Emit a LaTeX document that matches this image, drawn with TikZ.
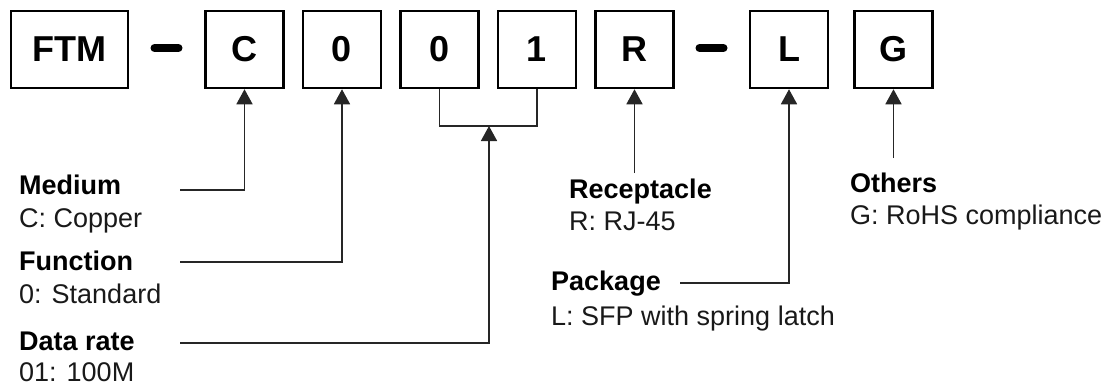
\documentclass[tikz,border=0pt]{standalone}
\usepackage{fontspec}
\setmainfont{Liberation Sans}
\usetikzlibrary{arrows.meta}
\begin{document}
\begin{tikzpicture}[x=1pt,y=-1pt,
  codebox/.style={draw=black,line width=2.5pt,minimum width=78pt,minimum height=77pt,inner sep=0pt,font=\fontsize{36}{40}\selectfont\bfseries},
  sepdash/.style={line width=8pt,line cap=round},
  conn/.style={line width=1.6pt,draw=black!85},
  arr/.style={conn,-{Triangle[length=15pt,width=16pt]}},
  ttl/.style={anchor=base west,inner sep=0pt,font=\fontsize{27}{30}\selectfont\bfseries},
  dsc/.style={anchor=base west,inner sep=0pt,font=\fontsize{27}{30}\selectfont,text=black!90}
]
\useasboundingbox (0,0) rectangle (1112,386);
% code boxes
\node[codebox,minimum width=117pt] (ftm) at (69.5,49.5) {FTM};
\node[codebox] (c)  at (244.5,49.5) {C};
\node[codebox] (f0) at (342,49.5) {0};
\node[codebox] (d0) at (439.5,49.5) {0};
\node[codebox] (d1) at (537,49.5) {1};
\node[codebox] (r)  at (634.5,49.5) {R};
\node[codebox] (l)  at (789,49.5) {L};
\node[codebox] (g)  at (893.5,49.5) {G};
% dashes
\coordinate (da1) at (154.5,48);
\coordinate (da2) at (178.5,48);
\coordinate (db1) at (699.5,48);
\coordinate (db2) at (723.5,48);
\draw[sepdash] (da1) -- (da2);
\draw[sepdash] (db1) -- (db2);
% labels
\node[ttl] (medT) at (19,194) {Medium};
\node[dsc] (medD) at (19,227) {C: Copper};
\node[ttl] (funT) at (19,270) {Function};
\node[dsc] (funD) at (19,303) {0: Standard};
\node[ttl] (datT) at (19,350) {Data rate};
\node[dsc] (datD) at (19,381) {01: 100M};
\node[ttl] (recT) at (569,198) {Receptacle};
\node[dsc] (recD) at (569,230) {R: RJ-45};
\node[ttl] (pkgT) at (551,290) {Package};
\node[dsc] (pkgD) at (551,325) {L: SFP with spring latch};
\node[ttl] (othT) at (850,192) {Others};
\node[dsc] (othD) at (850,224) {G: RoHS compliance};
% connector start points
\coordinate (mS) at (180,190);
\coordinate (fS) at (180,262);
\coordinate (dS) at (180,343);
\coordinate (br) at (489,126);
\coordinate (rS) at (634.5,173);
\coordinate (pS) at (680,283);
\coordinate (oS) at (893.5,158);
% connectors
\draw[conn] (d0.south) |- (br) -| (d1.south);
\draw[arr] (mS) -| (c.south);
\draw[arr] (fS) -| (f0.south);
\draw[arr] (dS) -| (br);
\draw[arr] (rS) -- (r.south);
\draw[arr] (pS) -| (l.south);
\draw[arr] (oS) -- (g.south);
\end{tikzpicture}
\end{document}
